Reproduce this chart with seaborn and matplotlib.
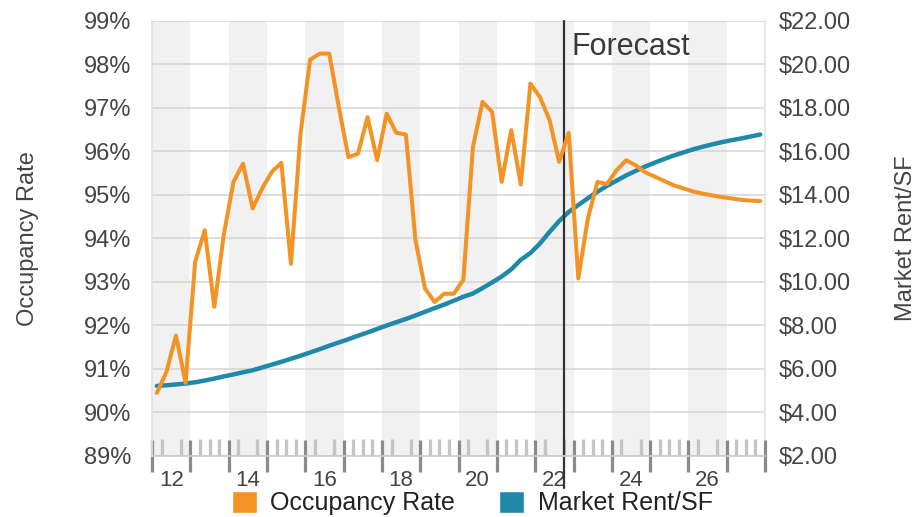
import numpy as np
import pandas as pd
import seaborn as sns
from matplotlib import pyplot as plt
from matplotlib.patches import Patch

years = list(range(2012, 2028))
# quarterly periods, plotted at the middle of each quarter
period = [y + (q - 0.5) / 4 for y in years for q in range(1, 5)]

occupancy = [
    90.45, 90.93, 91.77, 90.68, 93.46, 94.19, 92.43, 94.10,
    95.30, 95.72, 94.69, 95.15, 95.53, 95.74, 93.42, 96.41,
    98.11, 98.25, 98.25, 97.02, 95.87, 95.95, 96.79, 95.80,
    96.87, 96.43, 96.39, 93.96, 92.85, 92.54, 92.73, 92.73,
    93.05, 96.10, 97.14, 96.91, 95.30, 96.49, 95.24, 97.56,
    97.25, 96.72, 95.76, 96.43, 93.08, 94.46, 95.30, 95.25,
    95.57, 95.80, 95.68, 95.52, 95.42, 95.32, 95.22, 95.15,
    95.08, 95.03, 94.99, 94.95, 94.92, 94.89, 94.87, 94.86,
]

rent = [
    5.22, 5.25, 5.29, 5.33, 5.39, 5.47, 5.56, 5.66,
    5.75, 5.85, 5.94, 6.07, 6.20, 6.33, 6.47, 6.61,
    6.76, 6.91, 7.07, 7.22, 7.37, 7.53, 7.68, 7.84,
    8.00, 8.15, 8.30, 8.46, 8.63, 8.80, 8.96, 9.14,
    9.32, 9.47, 9.72, 9.98, 10.25, 10.58, 11.02, 11.33,
    11.77, 12.30, 12.80, 13.22, 13.54, 13.85, 14.15, 14.42,
    14.66, 14.90, 15.11, 15.31, 15.49, 15.66, 15.82, 15.96,
    16.10, 16.22, 16.33, 16.43, 16.52, 16.60, 16.69, 16.78,
]

occ_ticks = list(range(89, 100))
rent_ticks = list(range(2, 23, 2))
year_labels = [f"{y % 100}" for y in years[::2]]
forecast_start = 2022.75

orange = "#F39325"
teal = "#2088A8"
text_col = "#444444"

df = pd.DataFrame({"period": period, "occupancy": occupancy, "rent": rent})

sns.set_theme(style="white")
plt.rcParams["font.family"] = ["Liberation Sans", "DejaVu Sans"]

fig = plt.figure(figsize=(9.22, 5.17), dpi=100)
ax = fig.add_axes([0.1649, 0.1180, 0.6649, 0.8414])
ax2 = ax.twinx()
# occupancy on top, bands + grid + rent underneath
ax.set_zorder(2)
ax2.set_zorder(1)
ax.patch.set_visible(False)

for y in years[::2]:
    ax2.axvspan(y, y + 1, color="#f1f1f1", lw=0, zorder=0)

sns.lineplot(data=df, x="period", y="rent", ax=ax2, color=teal, lw=3.2)
sns.lineplot(data=df, x="period", y="occupancy", ax=ax, color=orange, lw=2.9)

ax.set_xlim(2012, 2028)
ax.set_ylim(89, 99)
ax2.set_ylim(2, 22)

ax.set_yticks(occ_ticks, [f"{v}%" for v in occ_ticks])
ax2.set_yticks(rent_ticks, [f"${v:.2f}" for v in rent_ticks])
ax2.yaxis.grid(True, color="#d4d4d4", lw=1.1)
ax2.set_axisbelow(True)

ax.tick_params(axis="y", left=True, length=0, pad=15, labelsize=17, labelcolor=text_col)
ax2.tick_params(axis="y", right=True, length=0, pad=10, labelsize=17, labelcolor=text_col)

# year labels in the middle of even years, quarter ticks light
ax.set_xticks([y + 0.5 for y in years[::2]], year_labels)
ax.set_xticks([y + q / 4 for y in years for q in (1, 2, 3)], minor=True)
ax.tick_params(axis="x", which="major", bottom=True, length=0, pad=10,
               labelsize=16, labelcolor=text_col)
ax.tick_params(axis="x", which="minor", bottom=True, direction="in",
               length=12, width=2.4, color="#c4c4c4")
ax2.tick_params(axis="x", bottom=False, labelbottom=False)

# darker ticks at year boundaries
sec = ax.secondary_xaxis("bottom")
sec.set_xticks(list(range(2012, 2029)))
sec.tick_params(axis="x", bottom=True, direction="inout", length=23, width=2.3,
                color="#8a8a8a", labelbottom=False)
sec.spines["bottom"].set_visible(False)

for s in ["top", "right"]:
    ax.spines[s].set_visible(False)
ax.spines["left"].set_color("#e2e2e2")
ax.spines["bottom"].set_color("#cccccc")
for s in ["top", "left", "bottom"]:
    ax2.spines[s].set_visible(False)
ax2.spines["right"].set_color("#e2e2e2")

ax.axvline(forecast_start, ymin=-0.074, ymax=1, color="#333333", lw=1.6,
           clip_on=False, zorder=1.5)
ax.text(forecast_start + 0.2, 98.4, "Forecast", fontsize=22, color="#3a3a3a",
        va="center", ha="left")

ax.set_xlabel("")
ax.set_ylabel("Occupancy Rate", fontsize=17, color=text_col)
ax2.set_ylabel("Market Rent/SF", fontsize=17, color=text_col)
ax.yaxis.set_label_coords(-0.184, 0.5)
ax2.yaxis.set_label_coords(1.212, 0.5)

handles = [Patch(facecolor=orange, label="Occupancy Rate"),
           Patch(facecolor=teal, label="Market Rent/SF")]
leg = fig.legend(handles=handles, loc="center", bbox_to_anchor=(0.512, 0.027),
                 ncol=2, frameon=False, fontsize=18, handlelength=1.0,
                 handleheight=1.0, handletextpad=0.55, columnspacing=1.75)
for t in leg.get_texts():
    t.set_color("#222222")

plt.savefig("out.png", dpi=100)
